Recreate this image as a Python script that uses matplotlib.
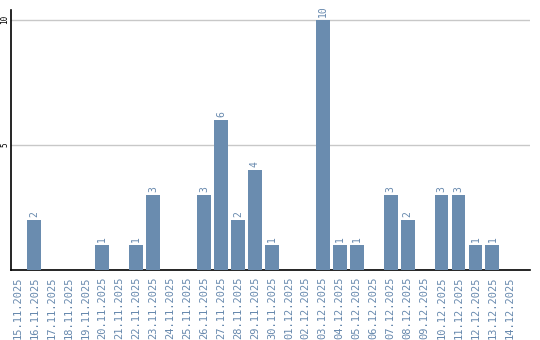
import matplotlib
matplotlib.use('Agg')
import matplotlib.pyplot as plt

# Daily counts
dates = ['15.11.2025', '16.11.2025', '17.11.2025', '18.11.2025', '19.11.2025',
         '20.11.2025', '21.11.2025', '22.11.2025', '23.11.2025', '24.11.2025',
         '25.11.2025', '26.11.2025', '27.11.2025', '28.11.2025', '29.11.2025',
         '30.11.2025', '01.12.2025', '02.12.2025', '03.12.2025', '04.12.2025',
         '05.12.2025', '06.12.2025', '07.12.2025', '08.12.2025', '09.12.2025',
         '10.12.2025', '11.12.2025', '12.12.2025', '13.12.2025', '14.12.2025']
counts = [0, 2, 0, 0, 0, 1, 0, 1, 3, 0,
          0, 3, 6, 2, 4, 1, 0, 0, 10, 1,
          1, 0, 3, 2, 0, 3, 3, 1, 1, 0]
yticks = [5, 10]

bar_color = '#6a8caf'
label_color = '#6688ad'

fig = plt.figure(figsize=(5.4, 3.4), dpi=100)
ax = fig.add_axes([0.0195, 0.206, 0.9615, 0.765])

x = range(len(dates))
ax.bar(x, counts, width=0.82, color=bar_color, zorder=3)

for i, v in enumerate(counts):
    if v > 0:
        ax.text(i, v + 0.1, str(v), rotation=90, ha='center', va='bottom',
                fontsize=7, color=label_color, family='DejaVu Sans Mono')

ax.set_xlim(-0.41, 30.2)
ax.set_ylim(0, 10.4)
ax.set_yticks(yticks)
ax.set_yticklabels([str(t) for t in yticks], rotation=90, va='center',
                   fontsize=5.5, family='DejaVu Sans Mono')
ax.yaxis.grid(True, color='#c8c8c8', linewidth=1, zorder=0)
ax.tick_params(axis='y', length=0, pad=1)

ax.set_xticks(list(x))
ax.set_xticklabels(dates, rotation=90, fontsize=7.5, color=label_color,
                   family='DejaVu Sans Mono')
ax.tick_params(axis='x', length=0, pad=5)

for side in ['top', 'right']:
    ax.spines[side].set_visible(False)
ax.spines['left'].set_linewidth(1.2)
ax.spines['bottom'].set_linewidth(1.2)

fig.savefig('out.png', dpi=100)
